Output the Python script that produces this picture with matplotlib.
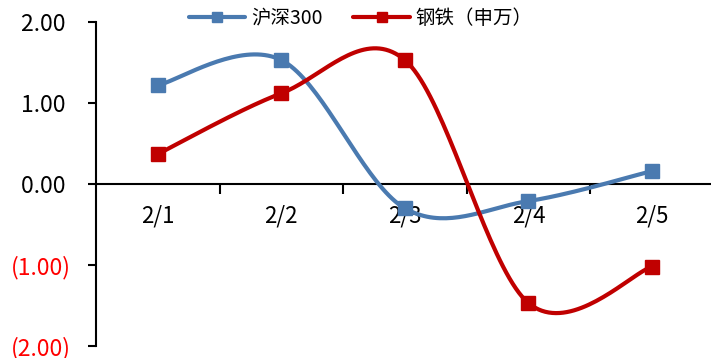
import numpy as np
import matplotlib.pyplot as plt
from matplotlib.ticker import FuncFormatter

plt.rcParams['font.family'] = ['Noto Sans CJK SC', 'DejaVu Sans']

dates = ['2/1', '2/2', '2/3', '2/4', '2/5']
hs300 = [1.22, 1.53, -0.30, -0.21, 0.16]
steel = [0.37, 1.12, 1.53, -1.47, -1.02]
names = ['沪深300', '钢铁（申万）']

BLUE = '#4A7AB0'
RED = '#C00000'


def smooth(x, y, n=40):
    # Catmull-Rom style curve like Excel's smoothed line
    x = np.asarray(x, float)
    y = np.asarray(y, float)
    px = np.concatenate([[x[0]], x, [x[-1]]])
    py = np.concatenate([[y[0]], y, [y[-1]]])
    xs, ys = [], []
    t = np.linspace(0, 1, n)
    for i in range(1, len(px) - 2):
        p0 = np.array([px[i], py[i]])
        p3 = np.array([px[i + 1], py[i + 1]])
        c1 = p0 + (p3 - np.array([px[i - 1], py[i - 1]])) / 6
        c2 = p3 - (np.array([px[i + 2], py[i + 2]]) - p0) / 6
        pts = ((1 - t) ** 3)[:, None] * p0 + (3 * (1 - t) ** 2 * t)[:, None] * c1 \
            + (3 * (1 - t) * t ** 2)[:, None] * c2 + (t ** 3)[:, None] * p3
        xs.extend(pts[:, 0])
        ys.extend(pts[:, 1])
    return xs, ys


fig = plt.figure(figsize=(7.11, 3.58), dpi=100)
ax = fig.add_axes([0.135, 0.0335, 0.869, 0.905])

idx = np.arange(len(dates))
for vals, color, name in [(hs300, BLUE, names[0]), (steel, RED, names[1])]:
    sx, sy = smooth(idx, vals)
    ax.plot(sx, sy, color=color, lw=3, solid_capstyle='round', zorder=3)
    ax.plot(idx, vals, 's', color=color, ms=10, zorder=4)
    ax.plot([], [], color=color, lw=3, marker='s', ms=7.5, label=name,
            solid_capstyle='round')

ax.set_xlim(-0.5, 4.5)
ax.set_ylim(-2, 2)
ax.set_yticks([-2, -1, 0, 1, 2])


def fmt(v, pos):
    # accounting style: negatives in brackets, positives padded
    if v < 0:
        return '({:.2f})'.format(-v)
    return '{:.2f} '.format(v)


ax.yaxis.set_major_formatter(FuncFormatter(fmt))
for lab, v in zip(ax.get_yticklabels(), [-2, -1, 0, 1, 2]):
    lab.set_color('red' if v < 0 else 'black')

ax.set_xticks([0.5, 1.5, 2.5, 3.5])
ax.set_xticklabels([])
ax.set_xticks(idx, minor=True)
ax.set_xticklabels(dates, minor=True)
ax.tick_params(axis='x', which='minor', length=0, pad=15, labelsize=16)
ax.tick_params(axis='x', which='major', length=7, width=1.5, direction='out')
ax.tick_params(axis='y', length=6, width=1.5, labelsize=16.5, pad=12)

ax.spines['top'].set_visible(False)
ax.spines['right'].set_visible(False)
ax.spines['bottom'].set_position(('data', 0))
ax.spines['left'].set_linewidth(1.5)
ax.spines['bottom'].set_linewidth(1.5)

ax.legend(loc='center left', bbox_to_anchor=(0.15, 1.012), ncol=2, frameon=False,
          fontsize=14, handlelength=2.9, columnspacing=1.6, handletextpad=0.3,
          borderpad=0, borderaxespad=0)

fig.savefig('out.png', dpi=100)
